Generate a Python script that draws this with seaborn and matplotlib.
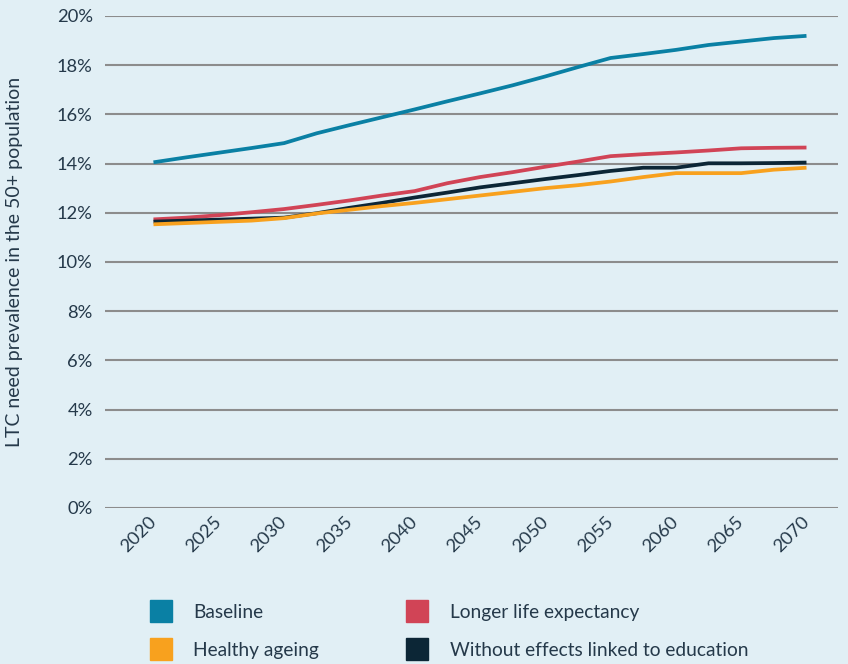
import matplotlib
matplotlib.use("Agg")
import matplotlib.pyplot as plt
import matplotlib.transforms as mtransforms
from matplotlib.lines import Line2D
from matplotlib.ticker import FuncFormatter
import numpy as np
import pandas as pd
import seaborn as sns

# Projection years (2.5-year steps)
years = [2020, 2022.5, 2025, 2027.5, 2030, 2032.5, 2035, 2037.5, 2040, 2042.5,
         2045, 2047.5, 2050, 2052.5, 2055, 2057.5, 2060, 2062.5, 2065, 2067.5, 2070]

# LTC need prevalence (%) in the 50+ population, by scenario
baseline = [14.05, 14.25, 14.44, 14.63, 14.83, 15.23, 15.56, 15.88, 16.20, 16.53,
            16.85, 17.18, 17.54, 17.92, 18.29, 18.45, 18.62, 18.82, 18.96, 19.10, 19.19]
longer_life = [11.73, 11.80, 11.90, 12.02, 12.15, 12.32, 12.50, 12.70, 12.88, 13.20,
               13.45, 13.65, 13.87, 14.08, 14.30, 14.38, 14.45, 14.53, 14.62, 14.64, 14.65]
healthy_ageing = [11.53, 11.58, 11.63, 11.68, 11.78, 11.97, 12.12, 12.27, 12.40, 12.55,
                  12.70, 12.85, 13.00, 13.12, 13.27, 13.45, 13.61, 13.61, 13.61, 13.75, 13.83]
no_education = [11.64, 11.68, 11.72, 11.76, 11.80, 11.98, 12.20, 12.40, 12.62, 12.82,
                13.03, 13.20, 13.37, 13.53, 13.70, 13.83, 13.83, 14.01, 14.01, 14.02, 14.04]

scenarios = ["Baseline", "Healthy ageing", "Longer life expectancy",
             "Without effects linked to education"]
series = [baseline, healthy_ageing, longer_life, no_education]
colors = ["#0a80a4", "#f8a11e", "#d14456", "#0c2636"]
x_ticks = list(range(2020, 2071, 5))
y_ticks = list(range(0, 21, 2))

df = pd.concat(
    [pd.DataFrame({"year": years, "value": vals, "scenario": name})
     for name, vals in zip(scenarios, series)],
    ignore_index=True,
)

bg = "#e1eff5"
text_col = "#25394a"
sns.set_theme(style="white")
plt.rcParams["font.family"] = ["Lato", "DejaVu Sans"]

fig = plt.figure(figsize=(8.48, 6.64), dpi=100, facecolor=bg)
ax = fig.add_axes([0.124, 0.235, 0.864, 0.741], facecolor=bg)

# Draw order: keep the dark line beneath the orange one at the start
draw_order = ["Baseline", "Longer life expectancy",
              "Without effects linked to education", "Healthy ageing"]
palette = dict(zip(scenarios, colors))
sns.lineplot(data=df, x="year", y="value", hue="scenario", hue_order=draw_order,
             palette=palette, linewidth=2.7, legend=False, ax=ax,
             solid_capstyle="butt")

ax.set_xlim(2016.3, 2072.4)
ax.set_ylim(0, 20)
ax.set_yticks(y_ticks)
ax.yaxis.set_major_formatter(FuncFormatter(lambda v, _: f"{int(v)}%"))
ax.set_xticks(x_ticks)
ax.set_xticklabels([str(t) for t in x_ticks], rotation=45, ha="right",
                   va="center", rotation_mode="anchor")
shift = mtransforms.ScaledTranslation(11 / 100, 0, fig.dpi_scale_trans)
for lbl in ax.get_xticklabels():
    lbl.set_transform(lbl.get_transform() + shift)
ax.grid(axis="y", color="#8c8c8c", linewidth=1.5)
ax.grid(axis="x", visible=False)
ax.set_axisbelow(True)
for s in ax.spines.values():
    s.set_visible(False)
ax.tick_params(axis="both", length=0, colors=text_col, labelsize=13.2)
ax.tick_params(axis="y", pad=9)
ax.tick_params(axis="x", pad=8)
ax.set_xlabel("")
ax.set_ylabel("LTC need prevalence in the 50+ population", color=text_col,
              fontsize=14, labelpad=24)

handles = [Line2D([], [], linestyle="none", marker="s", markersize=16,
                  markerfacecolor=c, markeredgecolor=c) for c in colors]
fig.legend(handles, scenarios, loc="upper left",
           bbox_to_anchor=(150 / 848, 1 - 604 / 664), ncol=2, frameon=False,
           fontsize=13.8, handlelength=1.15, handletextpad=1.1,
           columnspacing=4.56, labelspacing=1.1, borderpad=0, borderaxespad=0,
           labelcolor=text_col)

fig.savefig("out.png", dpi=100, facecolor=bg)
